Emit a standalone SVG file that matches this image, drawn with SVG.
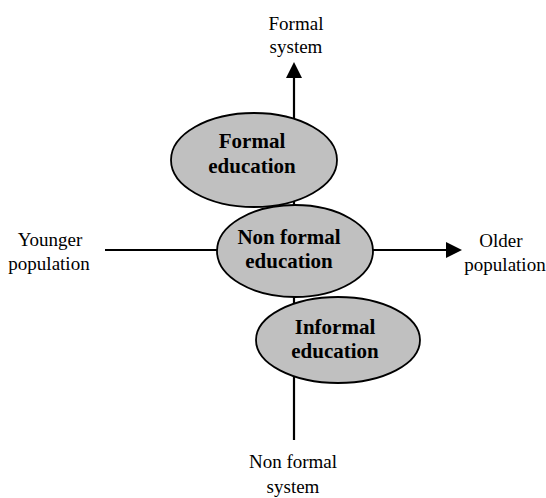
<svg xmlns="http://www.w3.org/2000/svg" width="546" height="498" viewBox="0 0 546 498">
<defs>
<style>
.lbl{font-family:"Liberation Serif","Times New Roman",serif;font-size:19px;fill:#000;text-anchor:middle}
.nd{font-family:"Liberation Serif","Times New Roman",serif;font-size:21px;font-weight:bold;fill:#000;text-anchor:middle}
.el{fill:#c0c0c0;stroke:#000;stroke-width:1.8}
.ln{stroke:#000;stroke-width:2.2;fill:none}
</style>
</defs>
<rect width="546" height="498" fill="#fff"/>
<g id="connectors">
<line class="ln" x1="294" y1="440" x2="294" y2="76"/>
<polygon points="294,62 286,78 302,78" fill="#000"/>
<line class="ln" x1="105" y1="250" x2="448" y2="250"/>
<polygon points="462,250 446,242 446,258" fill="#000"/>
</g>
<g id="formal-education">
<ellipse class="el" cx="254" cy="160" rx="83" ry="47"/>
<text class="nd" x="252" y="148">Formal</text>
<text class="nd" x="252" y="173">education</text>
</g>
<g id="informal-education">
<ellipse class="el" cx="338" cy="340" rx="82" ry="43"/>
<text class="nd" x="335" y="334">Informal</text>
<text class="nd" x="335" y="358">education</text>
</g>
<g id="non-formal-education">
<ellipse class="el" cx="295" cy="251" rx="78" ry="46"/>
<text class="nd" x="289" y="244">Non formal</text>
<text class="nd" x="289" y="268">education</text>
</g>
<g id="formal-system">
<text class="lbl" x="296" y="30">Formal</text>
<text class="lbl" x="296" y="53">system</text>
</g>
<g id="younger-population">
<text class="lbl" x="50" y="246">Younger</text>
<text class="lbl" x="49" y="270">population</text>
</g>
<g id="older-population">
<text class="lbl" x="501" y="247">Older</text>
<text class="lbl" x="505" y="271">population</text>
</g>
<g id="non-formal-system">
<text class="lbl" x="293" y="468">Non formal</text>
<text class="lbl" x="293" y="493">system</text>
</g>
</svg>
